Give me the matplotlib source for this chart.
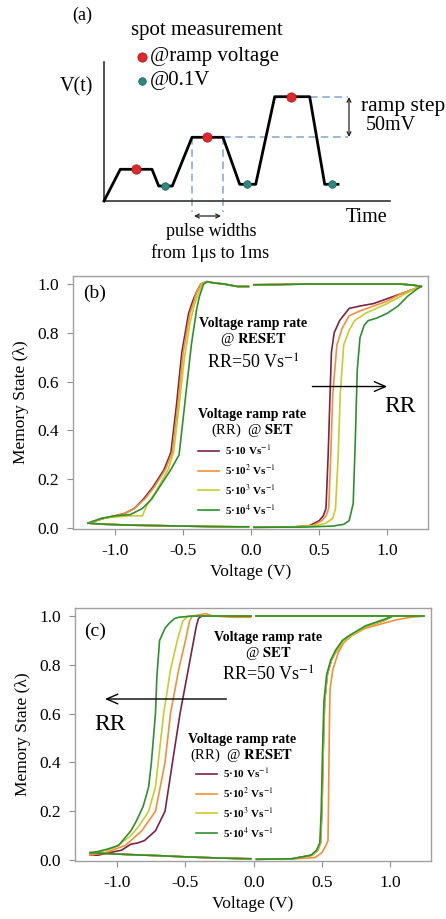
import matplotlib
matplotlib.use("Agg")
import matplotlib.pyplot as plt

plt.rcParams['font.family'] = ['Liberation Serif', 'DejaVu Serif']
plt.rcParams['mathtext.fontset'] = 'stix'

W, H = 446, 919

# ---- panel (a): schematic pulse train (time / voltage in arbitrary units)
wave_t = [0, 16.3, 48, 54.7, 68.3, 88, 119, 135.7, 151.7, 170.7, 205.7, 220.7, 234]
wave_v = [0, 31.7, 31.7, 15, 15, 63.7, 63.7, 16.7, 16.7, 104.3, 104.3, 16.7, 16.7]
red_t = [31.7, 103, 187.3]
red_v = [31.7, 63.7, 104.3]
teal_t = [61.3, 143.3, 228]
teal_v = [15, 16.7, 16.7]

# ---- panels (b), (c): memory state vs voltage
colors = ['#7b2346', '#f0913a', '#c9cc2a', '#2f8f2f']
rates = ['5·10 Vs$^{-1}$', '5·10$^2$ Vs$^{-1}$', '5·10$^3$ Vs$^{-1}$', '5·10$^4$ Vs$^{-1}$']

# (b) SET branch depends on ramp rate
b_set_v = [
    [0.02, 0.30, 0.43, 0.50, 0.53, 0.55, 0.566, 0.58, 0.59, 0.61, 0.65, 0.72, 0.80, 0.90, 1.00, 1.10, 1.20, 1.25],
    [0.02, 0.30, 0.45, 0.52, 0.55, 0.57, 0.585, 0.60, 0.63, 0.67, 0.72, 0.80, 0.90, 1.00, 1.10, 1.20, 1.25],
    [0.02, 0.30, 0.48, 0.55, 0.60, 0.62, 0.64, 0.655, 0.68, 0.72, 0.76, 0.84, 0.92, 1.00, 1.10, 1.20, 1.25],
    [0.02, 0.40, 0.60, 0.68, 0.72, 0.75, 0.765, 0.78, 0.80, 0.83, 0.86, 0.92, 1.00, 1.08, 1.15, 1.22, 1.25],
]
b_set_lam = [
    [0.003, 0.004, 0.01, 0.03, 0.05, 0.08, 0.30, 0.55, 0.72, 0.80, 0.85, 0.90, 0.91, 0.92, 0.94, 0.96, 0.98, 0.99],
    [0.003, 0.004, 0.01, 0.03, 0.05, 0.08, 0.30, 0.55, 0.75, 0.82, 0.87, 0.89, 0.91, 0.93, 0.96, 0.98, 0.99],
    [0.003, 0.004, 0.01, 0.02, 0.04, 0.08, 0.30, 0.55, 0.75, 0.81, 0.85, 0.88, 0.90, 0.92, 0.95, 0.98, 0.99],
    [0.003, 0.004, 0.008, 0.015, 0.03, 0.10, 0.35, 0.65, 0.78, 0.83, 0.85, 0.86, 0.88, 0.91, 0.95, 0.98, 0.99],
]
b_reset_v = [
    [-0.02, -0.10, -0.20, -0.28, -0.33, -0.37, -0.40, -0.43, -0.46, -0.51, -0.55, -0.59, -0.64, -0.72, -0.79, -0.86, -0.93, -1.00, -1.08, -1.20],
    [-0.02, -0.10, -0.20, -0.28, -0.33, -0.37, -0.40, -0.42, -0.45, -0.50, -0.54, -0.58, -0.63, -0.71, -0.78, -0.86, -0.93, -1.00, -1.08, -1.20],
    [-0.02, -0.10, -0.20, -0.28, -0.33, -0.36, -0.39, -0.42, -0.45, -0.49, -0.53, -0.57, -0.61, -0.70, -0.77, -0.80, -0.90, -1.00, -1.10, -1.20],
    [-0.02, -0.10, -0.20, -0.28, -0.32, -0.35, -0.38, -0.40, -0.44, -0.47, -0.50, -0.53, -0.59, -0.66, -0.73, -0.80, -0.89, -1.00, -1.10, -1.20],
]
b_reset_lam = [
    [0.99, 0.99, 1.0, 1.005, 1.01, 1.0, 0.97, 0.93, 0.88, 0.72, 0.50, 0.31, 0.24, 0.17, 0.12, 0.08, 0.06, 0.05, 0.04, 0.02],
    [0.99, 0.99, 1.0, 1.005, 1.01, 1.0, 0.97, 0.93, 0.88, 0.72, 0.50, 0.31, 0.24, 0.17, 0.12, 0.08, 0.06, 0.05, 0.04, 0.02],
    [0.99, 0.99, 1.0, 1.005, 1.01, 1.0, 0.96, 0.91, 0.84, 0.70, 0.50, 0.31, 0.24, 0.15, 0.09, 0.05, 0.05, 0.045, 0.04, 0.02],
    [0.99, 0.99, 1.0, 1.005, 1.01, 1.0, 0.95, 0.90, 0.75, 0.60, 0.45, 0.30, 0.24, 0.18, 0.12, 0.08, 0.055, 0.05, 0.04, 0.02],
]
b_up_v = [1.25, 1.20, 1.10, 1.00, 0.80, 0.60, 0.40, 0.20, 0.02]
b_up_lam = [0.99, 0.995, 1.0, 1.0, 1.0, 1.0, 1.0, 0.998, 0.997]
b_low_v = [-1.20, -1.10, -0.90, -0.70, -0.50, -0.30, -0.10, -0.02]
b_low_lam = [0.02, 0.016, 0.012, 0.010, 0.008, 0.006, 0.005, 0.005]

# (c) RESET branch depends on ramp rate
c_set_v = [
    [0.02, 0.28, 0.43, 0.47, 0.49, 0.50, 0.51, 0.52, 0.54, 0.57, 0.60, 0.65, 0.70, 0.82, 0.95, 1.02, 1.10, 1.25],
    [0.02, 0.30, 0.45, 0.50, 0.53, 0.545, 0.55, 0.555, 0.56, 0.58, 0.62, 0.66, 0.72, 0.82, 0.95, 1.05, 1.15, 1.25],
    [0.02, 0.28, 0.43, 0.47, 0.49, 0.50, 0.51, 0.52, 0.54, 0.57, 0.60, 0.65, 0.70, 0.82, 0.95, 1.02, 1.10, 1.25],
    [0.02, 0.28, 0.42, 0.46, 0.485, 0.495, 0.505, 0.515, 0.535, 0.565, 0.60, 0.65, 0.70, 0.82, 0.95, 1.02, 1.10, 1.25],
]
c_set_lam = [
    [0.003, 0.005, 0.02, 0.04, 0.07, 0.20, 0.45, 0.65, 0.76, 0.82, 0.85, 0.89, 0.915, 0.956, 0.98, 1.0, 1.0, 1.0],
    [0.003, 0.005, 0.01, 0.03, 0.06, 0.08, 0.30, 0.55, 0.70, 0.78, 0.85, 0.89, 0.92, 0.95, 0.97, 0.985, 0.995, 1.0],
    [0.003, 0.005, 0.02, 0.04, 0.07, 0.20, 0.45, 0.65, 0.76, 0.82, 0.85, 0.89, 0.915, 0.956, 0.98, 1.0, 1.0, 1.0],
    [0.003, 0.005, 0.02, 0.04, 0.07, 0.20, 0.45, 0.65, 0.76, 0.82, 0.86, 0.90, 0.92, 0.96, 0.985, 1.0, 1.0, 1.0],
]
c_reset_v = [
    [-0.02, -0.15, -0.30, -0.38, -0.405, -0.42, -0.44, -0.48, -0.54, -0.59, -0.65, -0.72, -0.80, -0.85, -0.90, -0.97, -1.06, -1.14, -1.20],
    [-0.02, -0.15, -0.30, -0.35, -0.40, -0.45, -0.47, -0.50, -0.55, -0.61, -0.65, -0.72, -0.82, -0.94, -1.09, -1.20],
    [-0.02, -0.15, -0.30, -0.40, -0.48, -0.52, -0.56, -0.61, -0.66, -0.72, -0.77, -0.84, -0.90, -1.02, -1.15, -1.20],
    [-0.02, -0.15, -0.30, -0.45, -0.55, -0.58, -0.62, -0.65, -0.69, -0.71, -0.72, -0.75, -0.77, -0.81, -0.86, -0.90, -0.99, -1.07, -1.14, -1.20],
]
c_reset_lam = [
    [1.0, 1.0, 1.0, 1.0, 0.99, 0.96, 0.90, 0.78, 0.60, 0.42, 0.20, 0.12, 0.08, 0.07, 0.065, 0.04, 0.03, 0.02, 0.02],
    [0.995, 0.995, 1.0, 1.01, 1.005, 1.0, 0.98, 0.90, 0.78, 0.60, 0.40, 0.20, 0.12, 0.06, 0.03, 0.02],
    [1.0, 1.0, 1.0, 1.0, 1.0, 0.98, 0.90, 0.78, 0.60, 0.30, 0.20, 0.14, 0.10, 0.05, 0.03, 0.03],
    [1.0, 1.0, 1.0, 1.0, 0.995, 0.99, 0.97, 0.95, 0.90, 0.75, 0.60, 0.40, 0.30, 0.22, 0.16, 0.12, 0.06, 0.045, 0.035, 0.03],
]
c_up_v = [1.25, 1.15, 1.00, 0.80, 0.60, 0.40, 0.20, 0.02]
c_up_lam = [1.0, 1.0, 1.0, 1.0, 1.0, 1.0, 1.0, 1.0]
c_low_v = [-1.20, -1.10, -0.90, -0.70, -0.50, -0.30, -0.10, -0.02]
c_low_lam = [0.03, 0.027, 0.022, 0.018, 0.013, 0.009, 0.006, 0.005]

volt_ticks = [-1.0, -0.5, 0.0, 0.5, 1.0]
volt_labels = ['-1.0', '-0.5', '0.0', '0.5', '1.0']
lam_ticks = [0.0, 0.2, 0.4, 0.6, 0.8, 1.0]
lam_labels = ['0.0', '0.2', '0.4', '0.6', '0.8', '1.0']


def fx(x):
    return x / W


def fy(y):
    return 1 - y / H


def ftext(x, y, s, **kw):
    kw.setdefault('ha', 'center')
    kw.setdefault('va', 'center')
    fig.text(fx(x), fy(y), s, **kw)


fig = plt.figure(figsize=(W / 100, H / 100), dpi=100)

# ---------------- (a)
ax_a = fig.add_axes([fx(104), fy(201), fx(390) - fx(104), (201 - 62) / H])
ax_a.set_xlim(0, 286)
ax_a.set_ylim(0, 139)
ax_a.patch.set_visible(False)
for s in ['top', 'right']:
    ax_a.spines[s].set_visible(False)
for s in ['left', 'bottom']:
    ax_a.spines[s].set_linewidth(1.2)
    ax_a.spines[s].set_color('#333333')
ax_a.set_xticks([])
ax_a.set_yticks([])

dash_c = '#7ea6cf'
ax_a.plot([119, 244], [63.7, 63.7], ls=(0, (5, 3)), color=dash_c, lw=1.1, clip_on=False)
ax_a.plot([205.7, 244], [104.3, 104.3], ls=(0, (5, 3)), color=dash_c, lw=1.1, clip_on=False)
ax_a.plot([88, 88], [63.7, -11], ls=(0, (5, 3)), color=dash_c, lw=1.1, clip_on=False)
ax_a.plot([119, 119], [63.7, -11], ls=(0, (5, 3)), color=dash_c, lw=1.1, clip_on=False)
ax_a.plot(wave_t, wave_v, color='black', lw=2.0, clip_on=False, zorder=3)
ax_a.scatter(red_t, red_v, s=45, color='#e3262b', edgecolors='#9a1a1a', linewidths=0.5, zorder=4, clip_on=False)
ax_a.scatter(teal_t, teal_v, s=30, color='#2a8a80', edgecolors='#1d5e58', linewidths=0.5, zorder=4, clip_on=False)
# legend dots
ax_a.scatter([38], [144], s=45, color='#e3262b', edgecolors='#9a1a1a', linewidths=0.5, clip_on=False)
ax_a.scatter([38], [120], s=30, color='#2a8a80', edgecolors='#1d5e58', linewidths=0.5, clip_on=False)
ax_a.annotate('', xy=(90, -15), xytext=(117, -15),
              arrowprops=dict(arrowstyle='<->', color='#222222', lw=0.9,
                              shrinkA=0, shrinkB=0, mutation_scale=7), annotation_clip=False)
ax_a.annotate('', xy=(245, 104), xytext=(245, 64),
              arrowprops=dict(arrowstyle='<->', color='#222222', lw=0.9,
                              shrinkA=0, shrinkB=0, mutation_scale=7), annotation_clip=False)

ftext(82, 15, '(a)', fontsize=13)
ftext(207, 31, 'spot measurement', fontsize=15)
ftext(150, 57, '@ramp voltage', fontsize=15, ha='left')
ftext(150, 80, '@0.1V', fontsize=15, ha='left')
ftext(76, 87, 'V(t)', fontsize=14.5)
ftext(367, 218, 'Time', fontsize=14.5)
ftext(361, 107, 'ramp step', fontsize=15.5, ha='left')
ftext(391, 125, '50mV', fontsize=14.5)
ftext(211, 232, 'pulse widths', fontsize=13)
ftext(210, 253, 'from 1μs to 1ms', fontsize=13)


# ---------------- (b), (c)
def hyst(ax, set_v, set_lam, reset_v, reset_lam, up_v, up_lam, low_v, low_lam):
    lines = []
    for i in range(4):
        ln, = ax.plot(set_v[i], set_lam[i], color=colors[i], lw=1.2)
        ax.plot(reset_v[i], reset_lam[i], color=colors[i], lw=1.2)
        lines.append(ln)
    for i in range(4):
        ax.plot(up_v, up_lam, color=colors[i], lw=1.2)
        ax.plot(low_v, low_lam, color=colors[i], lw=1.2)
    ax.set_xlim(-1.31, 1.30)
    ax.set_xticks(volt_ticks)
    ax.set_xticklabels(volt_labels)
    ax.set_yticks(lam_ticks)
    ax.set_yticklabels(lam_labels)
    for s in ax.spines.values():
        s.set_color('#a0a0a0')
        s.set_linewidth(1.0)
    ax.tick_params(direction='out', length=4, width=0.8, color='#909090',
                   labelsize=12.5, pad=6)
    ax.set_xlabel('Voltage (V)', fontsize=12.5, labelpad=4)
    ax.set_ylabel('Memory State (λ)', fontsize=12.5, labelpad=6)
    return lines


ax_b = fig.add_axes([fx(73), fy(529), (428 - 73) / W, (529 - 276) / H])
ax_b.set_ylim(-0.004, 1.033)
lines_b = hyst(ax_b, b_set_v, b_set_lam, b_reset_v, b_reset_lam, b_up_v, b_up_lam, b_low_v, b_low_lam)
ax_b.annotate('', xy=(1.0, 0.58), xytext=(0.45, 0.58),
              arrowprops=dict(arrowstyle='->,head_length=0.8,head_width=0.35', color='black',
                              lw=1.0, shrinkA=0, shrinkB=0))
ax_b.legend(lines_b, rates, loc='upper left', bbox_to_anchor=(fx(198), fy(443)),
            bbox_transform=fig.transFigure, frameon=False, handlelength=1.9,
            handletextpad=0.5, labelspacing=0.5, borderpad=0, borderaxespad=0,
            prop={'size': 8, 'weight': 'bold'})

ftext(95, 293, '(b)', fontsize=14)
ftext(253, 323, 'Voltage ramp rate', fontsize=10, fontweight='bold')
ftext(253, 340, '@ $\\mathbf{RESET}$', fontsize=10.5)
ftext(253, 363, 'RR=50 Vs$^{-1}$', fontsize=13)
ftext(400, 406, 'RR', fontsize=17)
ftext(252, 414, 'Voltage ramp rate', fontsize=10, fontweight='bold')
ftext(252, 430, '(RR)  @ $\\mathbf{SET}$', fontsize=10.5)

ax_c = fig.add_axes([fx(75), fy(861), (431 - 75) / W, (861 - 608) / H])
ax_c.set_ylim(-0.004, 1.033)
lines_c = hyst(ax_c, c_set_v, c_set_lam, c_reset_v, c_reset_lam, c_up_v, c_up_lam, c_low_v, c_low_lam)
ax_c.annotate('', xy=(-1.09, 0.66), xytext=(-0.20, 0.66),
              arrowprops=dict(arrowstyle='->,head_length=0.8,head_width=0.35', color='black',
                              lw=1.0, shrinkA=0, shrinkB=0))
ax_c.legend(lines_c, rates, loc='upper left', bbox_to_anchor=(fx(196), fy(766)),
            bbox_transform=fig.transFigure, frameon=False, handlelength=1.9,
            handletextpad=0.5, labelspacing=0.5, borderpad=0, borderaxespad=0,
            prop={'size': 8, 'weight': 'bold'})

ftext(95, 631, '(c)', fontsize=14)
ftext(268, 637, 'Voltage ramp rate', fontsize=10, fontweight='bold')
ftext(268, 653, '@ $\\mathbf{SET}$', fontsize=10.5)
ftext(268, 675, 'RR=50 Vs$^{-1}$', fontsize=13)
ftext(110, 725, 'RR', fontsize=17)
ftext(242, 740, 'Voltage ramp rate', fontsize=10, fontweight='bold')
ftext(242, 755, '(RR)  @ $\\mathbf{RESET}$', fontsize=10.5)

fig.savefig('out.png', dpi=100)
